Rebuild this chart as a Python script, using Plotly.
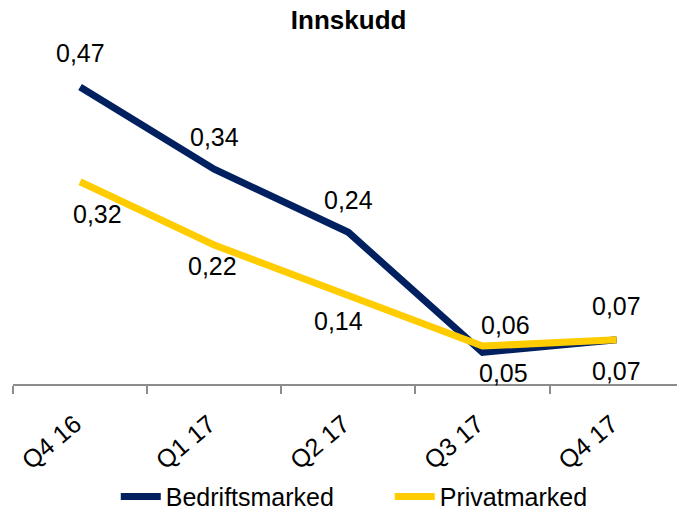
import plotly.graph_objects as go

# Data
kvartaler = ['Q4 16', 'Q1 17', 'Q2 17', 'Q3 17', 'Q4 17']
bedrift = [0.47, 0.34, 0.24, 0.05, 0.07]
privat = [0.32, 0.22, 0.14, 0.06, 0.07]

# label offsets (px) for the value labels
bedrift_dy = [34, 32, 32, -21, 34]
bedrift_dx = [0, 0, 0, 21, 0]
privat_dy = [-32, -21, -25, 21, -31]
privat_dx = [17, -2, -10, 23, 0]

NAVY = '#002060'
GUL = '#FFCC00'
FONT = 'Liberation Sans, Arial, sans-serif'
FS = 25

fig = go.Figure()

fig.add_trace(go.Scatter(
    x=kvartaler, y=bedrift, mode='lines', name='Bedriftsmarked',
    line=dict(color=NAVY, width=7), hoverinfo='skip'
))
fig.add_trace(go.Scatter(
    x=kvartaler, y=privat, mode='lines', name='Privatmarked',
    line=dict(color=GUL, width=7), hoverinfo='skip'
))

# verdietiketter
for serie, dxs, dys in ((bedrift, bedrift_dx, bedrift_dy), (privat, privat_dx, privat_dy)):
    for k, v, dx, dy in zip(kvartaler, serie, dxs, dys):
        fig.add_annotation(
            x=k, y=v, text=f'{v:.2f}'.replace('.', ','), showarrow=False,
            xshift=dx, yshift=dy, font=dict(size=FS, color='black', family=FONT)
        )

fig.update_layout(
    width=677, height=512,
    margin=dict(l=13, r=0, t=68, b=128, autoexpand=False),
    paper_bgcolor='white', plot_bgcolor='white',
    font=dict(family=FONT, size=FS, color='black'),
    title=dict(text='<b>Innskudd</b>', x=0.515, xanchor='center', y=0.961,
               yanchor='middle', font=dict(size=26)),
    showlegend=True,
    legend=dict(orientation='h', xref='container', x=0.171, xanchor='left',
                yref='container', y=0.03, yanchor='middle', font=dict(size=FS),
                itemwidth=40, entrywidth=219, tracegroupgap=0),
    xaxis=dict(
        type='category', range=[-0.5, 4.45], showgrid=False,
        showline=True, linecolor='#8c8c8c', linewidth=1.5,
        ticks='outside', tickson='boundaries', ticklen=8, tickcolor='#8c8c8c', tickwidth=1.5,
        tickangle=-40, tickfont=dict(size=FS), ticklabelstandoff=14, ticklabelshift=-5
    ),
    yaxis=dict(range=[0, 0.5], visible=False, showgrid=False),
)

# fjern standardmarg i body slik at figuren starter i hjørnet
fig.write_html('out.html', config={'displayModeBar': False},
               post_script="document.body.style.margin='0';")
